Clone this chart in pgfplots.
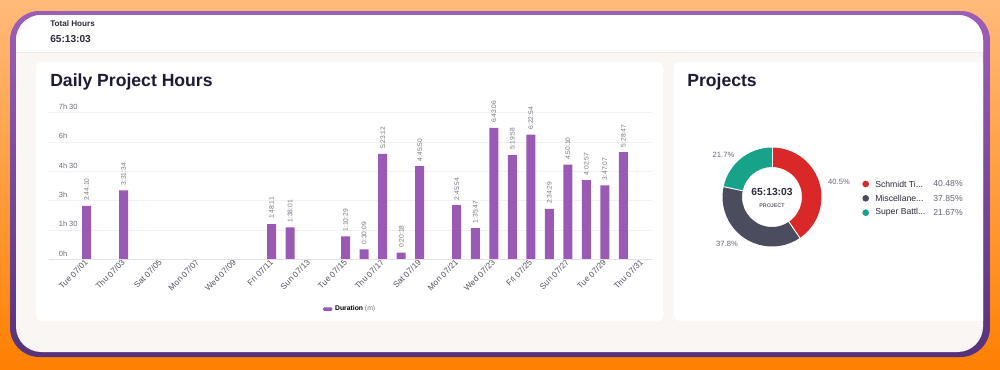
\documentclass[border=0pt]{standalone}
\usepackage{fontspec}
\setmainfont{Liberation Sans}
\usepackage{pgfplots}
\pgfplotsset{compat=1.18}
\usepackage{pgfplotstable}

\definecolor{bgT}{RGB}{255,186,122}
\definecolor{bgB}{RGB}{255,128,2}
\definecolor{frameT}{RGB}{158,94,184}
\definecolor{frameB}{RGB}{86,50,124}
\definecolor{pagebg}{RGB}{250,246,243}
\definecolor{sepline}{RGB}{240,236,234}
\definecolor{barc}{RGB}{155,89,182}
\definecolor{titlec}{RGB}{30,26,52}
\definecolor{txt}{RGB}{45,40,58}
\definecolor{ticktxt}{RGB}{85,82,98}
\definecolor{ytick}{RGB}{110,108,120}
\definecolor{valtxt}{RGB}{120,118,130}
\definecolor{gridc}{RGB}{243,241,244}
\definecolor{axisc}{RGB}{228,226,232}
\definecolor{dred}{RGB}{218,40,40}
\definecolor{dgray}{RGB}{75,76,94}
\definecolor{dteal}{RGB}{22,163,137}
\definecolor{pctc}{RGB}{105,100,118}

\newcommand{\fs}[1]{\fontsize{#1}{#1}\selectfont}

\pgfplotstableread{
day min label
1 164.17 2:44:10
3 211.57 3:31:34
11 108.18 1:48:11
12 98.02 1:38:01
15 70.48 1:10:29
16 30.15 0:30:09
17 323.20 5:23:12
18 20.30 0:20:18
19 285.83 4:45:50
21 165.90 2:45:54
22 95.78 1:35:47
23 403.10 6:43:06
24 319.97 5:19:58
25 382.90 6:22:54
26 154.48 2:34:29
27 290.17 4:50:10
28 242.95 4:02:57
29 227.12 3:47:07
30 328.78 5:28:47
}\bardata

\def\pA{40.48}
\def\pB{37.85}
\def\pC{21.67}

\begin{document}
\begin{tikzpicture}[x=0.75pt,y=0.75pt]
\useasboundingbox (0,0) rectangle (1000,369);
\shade[top color=bgT, bottom color=bgB] (0,0) rectangle (1000,369);
\begin{scope}[shift={(0,369)}, yscale=-1]
\shade[top color=frameT, bottom color=frameB, rounded corners=22pt] (10,11) rectangle (990,357);
\begin{scope}
  \clip[rounded corners=19pt] (16,15) rectangle (983,352);
  \fill[pagebg] (0,0) rectangle (1000,369);
  \fill[white] (0,0) rectangle (1000,52);
  \draw[sepline, line width=0.6pt] (0,52.5) -- (1000,52.5);
  \fill[white, rounded corners=4pt] (36,62) rectangle (663,321);
  \fill[white, rounded corners=4pt] (674,62) rectangle (1010,321);
\end{scope}

\node[anchor=west, inner sep=0, font=\bfseries\fs{6.1}, text=txt] at (50,24) {Total Hours};
\node[anchor=west, inner sep=0, font=\bfseries\fs{7.6}, text=txt] at (50,39.5) {65:13:03};
\node[anchor=base west, inner sep=0, font=\bfseries\fs{13.2}, text=titlec] at (50,86.5) {Daily Project Hours};
\node[anchor=base west, inner sep=0, font=\bfseries\fs{13.2}, text=titlec] at (687,86.5) {Projects};

\node[font=\bfseries\fs{7.7}, text=txt] at (772,191.5) {65:13:03};
\node[font=\bfseries\fs{4}, text=pctc] at (772,205.7) {PROJECT};
\node[font=\fs{5.7}, text=pctc] at (839,182) {40.5\%};
\node[font=\fs{5.7}, text=pctc] at (723.5,155) {21.7\%};
\node[font=\fs{5.7}, text=pctc] at (727,244) {37.8\%};

\fill[dred] (865.7,184) circle[radius=2.5pt];
\fill[dgray] (865.7,198.3) circle[radius=2.5pt];
\fill[dteal] (865.7,212.7) circle[radius=2.5pt];
\node[anchor=west, inner sep=0, font=\fs{6.5}, text=txt] at (875,184) {Schmidt Ti...};
\node[anchor=west, inner sep=0, font=\fs{6.5}, text=txt] at (875,198.3) {Miscellane...};
\node[anchor=west, inner sep=0, font=\fs{6.5}, text=txt] at (875,212.7) {Super Battl...};
\node[anchor=east, inner sep=0, font=\fs{6.5}, text=pctc] at (963,184) {40.48\%};
\node[anchor=east, inner sep=0, font=\fs{6.5}, text=pctc] at (963,198.3) {37.85\%};
\node[anchor=east, inner sep=0, font=\fs{6.5}, text=pctc] at (963,212.7) {21.67\%};
\end{scope}

% donut (y up: center at 369-197)
\pgfmathsetmacro{\aA}{90-3.6*\pA}
\pgfmathsetmacro{\aB}{\aA-3.6*\pB}
\pgfmathsetmacro{\aC}{\aB-3.6*\pC}
\begin{scope}[shift={(772,172)}]
  \fill[dred] (90:37.1pt) arc[start angle=90, end angle=\aA, radius=37.1pt] -- (\aA:22.5pt) arc[start angle=\aA, end angle=90, radius=22.5pt] -- cycle;
  \fill[dgray] (\aA:37.1pt) arc[start angle=\aA, end angle=\aB, radius=37.1pt] -- (\aB:22.5pt) arc[start angle=\aB, end angle=\aA, radius=22.5pt] -- cycle;
  \fill[dteal] (\aB:37.1pt) arc[start angle=\aB, end angle=\aC, radius=37.1pt] -- (\aC:22.5pt) arc[start angle=\aC, end angle=\aB, radius=22.5pt] -- cycle;
  \foreach \a in {90,\aA,\aB} \draw[white, line width=0.7pt] (\a:22pt) -- (\a:37.6pt);
\end{scope}

\coordinate (AX) at (49,109.7);
\begin{axis}[
  at={(AX)}, anchor=south west,
  scale only axis, width=452.25pt, height=110pt,
  xmin=-1.03, xmax=31.55, ymin=0, ymax=450,
  clip=false,
  axis line style={draw=none},
  tick style={draw=none},
  ymajorgrids, grid style={draw=gridc, line width=0.6pt},
  xtick={1,3,...,31},
  xticklabels={Tue 07/01,Thu 07/03,Sat 07/05,Mon 07/07,Wed 07/09,Fri 07/11,Sun 07/13,Tue 07/15,Thu 07/17,Sat 07/19,Mon 07/21,Wed 07/23,Fri 07/25,Sun 07/27,Tue 07/29,Thu 07/31},
  xticklabel style={rotate=45, anchor=east, font=\fs{6.2}, text=ticktxt, inner sep=1pt, yshift=-1pt},
  ytick={0,90,...,450},
  yticklabels={0h,1h 30,3h,4h 30,6h,7h 30},
  yticklabel style={anchor=south west, font=\fs{5.6}, text=ytick, inner sep=0pt, xshift=0.2cm+1.5pt, yshift=2.2pt},
  legend style={at={(0.5,-0.339)}, anchor=center, draw=none, fill=none, font=\fs{5.1}, inner sep=0pt},
  legend image code/.code={\fill[barc, rounded corners=0.8pt] (0pt,-1.3pt) rectangle (7pt,1.3pt);},
]
\addplot[ybar, bar shift=0pt, bar width=6.75pt, fill=barc, draw=none,
  nodes near coords, point meta=explicit symbolic,
  every node near coord/.append style={rotate=90, anchor=west, font=\fs{5}, text=valtxt, inner sep=3.6pt}]
  table[x=day, y=min, meta=label] {\bardata};
\addlegendentry{\textbf{Duration} \textcolor{ytick}{(m)}}
\draw[axisc, line width=0.8pt] (rel axis cs:0,0) -- (rel axis cs:1,0);
\end{axis}
\end{tikzpicture}
\end{document}
